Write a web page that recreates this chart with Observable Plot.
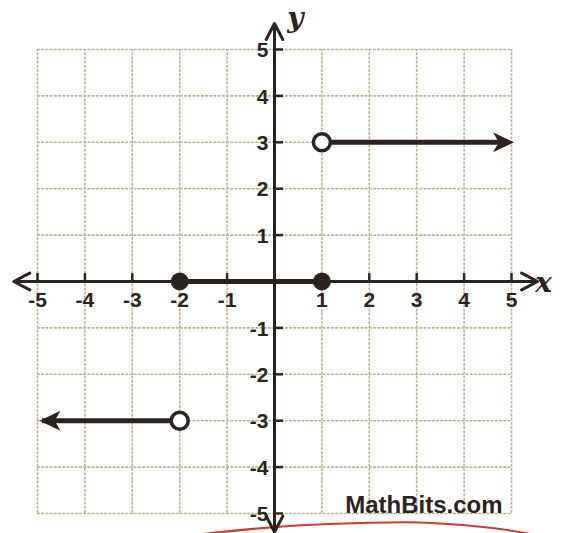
<!DOCTYPE html>
<html>
<head>
<meta charset="utf-8">
<script src="https://cdn.jsdelivr.net/npm/d3@7"></script>
<script src="https://cdn.jsdelivr.net/npm/@observablehq/plot@0.6"></script>
<style>
  html, body { margin: 0; padding: 0; background: #fff; }
</style>
</head>
<body>
<div id="chart"></div>
<script>
// ---- data ----
const gridValues = [-5, -4, -3, -2, -1, 0, 1, 2, 3, 4, 5];
const xTickValues = [-5, -4, -3, -2, -1, 1, 2, 3, 4, 5];
const yTickValues = [-5, -4, -3, -2, -1, 1, 2, 3, 4, 5];
const segments = [
  {x1: -5, x2: -2, y: -3},
  {x1: -2, x2: 1, y: 0},
  {x1: 1, x2: 5, y: 3}
];
const openPoints = [{x: -2, y: -3}, {x: 1, y: 3}];
const closedPoints = [{x: -2, y: 0}, {x: 1, y: 0}];
const leftRayEnds = [{x: -5, y: -3}];
const rightRayEnds = [{x: 5, y: 3}];
const axisArrows = [
  {x1: 0, y1: 0, x2: -5.5, y2: 0},
  {x1: 0, y1: 0, x2: 5.55, y2: 0},
  {x1: 0, y1: 0, x2: 0, y2: 5.56},
  {x1: 0, y1: 0, x2: 0, y2: -5.4}
];
const redArc = [
  {x: -1.6, y: -5.45}, {x: -0.1, y: -5.3}, {x: 1.3, y: -5.22},
  {x: 2.7, y: -5.19}, {x: 3.4, y: -5.21}, {x: 4.5, y: -5.3}, {x: 5.45, y: -5.45}
];

const ink = "#2a2320";
const gridColor = "#c0b497";

// barbed filled arrowhead pointing right, centred on the dot position
const barb = {
  draw(ctx, size) {
    const r = Math.sqrt(size / Math.PI);
    ctx.moveTo(r, 0);
    ctx.lineTo(-r, -0.95 * r);
    ctx.lineTo(-0.45 * r, 0);
    ctx.lineTo(-r, 0.95 * r);
    ctx.closePath();
  }
};

const chart = Plot.plot({
  width: 567,
  height: 533,
  marginLeft: 37,
  marginRight: 56,
  marginTop: 49,
  marginBottom: 20,
  x: {domain: [-5, 5], axis: null},
  y: {domain: [-5, 5], axis: null},
  style: {background: "#fff", fontFamily: "Liberation Sans, Arial, sans-serif", overflow: "visible"},
  marks: [
    // grid
    Plot.ruleX(gridValues, {x: d => d, y1: -5, y2: 5, stroke: gridColor, strokeWidth: 1.6, strokeDasharray: "3,1.2"}),
    Plot.ruleY(gridValues, {y: d => d, x1: -5, x2: 5, stroke: gridColor, strokeWidth: 1.6, strokeDasharray: "3,1.2"}),
    // red arc at bottom (photo)
    Plot.line(redArc, {x: "x", y: "y", curve: "natural", stroke: "#d23a30", strokeWidth: 2}),
    // axes
    Plot.arrow(axisArrows, {x1: "x1", y1: "y1", x2: "x2", y2: "y2", stroke: ink, strokeWidth: 3, headLength: 9, headAngle: 55}),
    Plot.ruleX(xTickValues, {x: d => d, y1: 0, y2: 0.17, stroke: ink, strokeWidth: 2.5}),
    Plot.ruleY(yTickValues, {y: d => d, x1: 0, x2: 0.19, stroke: ink, strokeWidth: 2.5}),
    // tick labels
    Plot.text(xTickValues, {x: d => d, y: 0, text: d => String(d), dy: 19, fontSize: 21, fontWeight: "bold", fill: ink, textAnchor: "middle"}),
    Plot.text(yTickValues, {x: 0, y: d => d, text: d => String(d), dx: -6, dy: 1, fontSize: 21, fontWeight: "bold", fill: ink, textAnchor: "end"}),
    // axis names
    Plot.text(["y"], {x: 0, y: 5, text: d => d, dx: 21, dy: -31, fontSize: 28, fontStyle: "italic", fontWeight: "bold", fontFamily: "DejaVu Serif, Liberation Serif, serif", fill: ink}),
    Plot.text(["x"], {x: 5, y: 0, text: d => d, dx: 32, dy: 2, fontSize: 28, fontStyle: "italic", fontWeight: "bold", fontFamily: "DejaVu Serif, Liberation Serif, serif", fill: ink}),
    // function pieces
    Plot.ruleY(segments, {x1: "x1", x2: "x2", y: "y", stroke: ink, strokeWidth: 5, insetLeft: 5, insetRight: 5}),
    Plot.dot(leftRayEnds, {x: "x", y: "y", symbol: barb, r: 10.5, fill: ink, stroke: "none", rotate: 180, dx: 12.5}),
    Plot.dot(rightRayEnds, {x: "x", y: "y", symbol: barb, r: 10.5, fill: ink, stroke: "none", rotate: 0, dx: -8}),
    Plot.dot(closedPoints, {x: "x", y: "y", r: 9, fill: ink}),
    Plot.dot(openPoints, {x: "x", y: "y", r: 8.5, fill: "#fff", stroke: ink, strokeWidth: 3.5}),
    // watermark
    Plot.text(["MathBits.com"], {x: 5, y: -5, text: d => d, textAnchor: "end", lineAnchor: "bottom", dx: -9, dy: -1, fontSize: 24, fontWeight: "bold", fill: ink})
  ]
});
document.getElementById("chart").appendChild(chart);
</script>
</body>
</html>
